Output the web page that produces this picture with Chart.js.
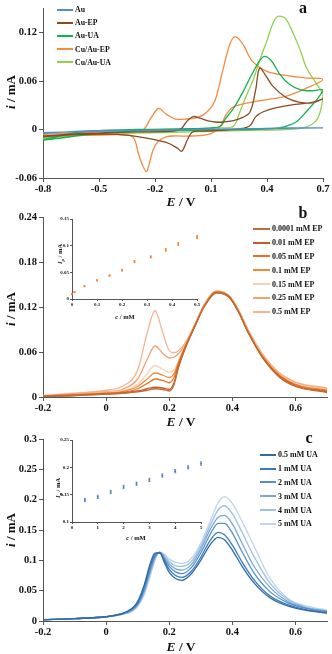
<!DOCTYPE html>
<html>
<head>
<meta charset="utf-8">
<script src="https://cdn.jsdelivr.net/npm/chart.js@4.4.0/dist/chart.umd.min.js"></script>
<style>
html, body { margin: 0; padding: 0; background: #fff; }
body { width: 332px; height: 654px; position: relative; overflow: hidden;
       font-family: "Liberation Serif", "Times New Roman", serif; font-weight: bold; color: #111; }
.box { position: absolute; }
.box canvas { display: block; }
.t { position: absolute; white-space: nowrap; transform: translate(-50%, -50%); line-height: 1; }
.ty { transform: translate(-50%, -50%) rotate(-90deg); }
.lg { position: absolute; }
.lg div { display: flex; align-items: center; white-space: nowrap; }
.lg span { display: inline-block; height: 2px; margin-right: 2px; }
</style>
</head>
<body>
<div class="box" style="left:0px;top:0px"><canvas id="chA" width="332" height="210"></canvas></div>
<div class="box" style="left:0px;top:205px"><canvas id="chB" width="332" height="212"></canvas></div>
<div class="box" style="left:0px;top:425px"><canvas id="chC" width="332" height="229"></canvas></div>
<div class="box" style="left:50px;top:212px"><canvas id="inB" width="155" height="112"></canvas></div>
<div class="box" style="left:50px;top:433px"><canvas id="inC" width="160" height="112"></canvas></div>

<div class="t ty" style="left:10px;top:92px;font-size:13px"><i>i</i> / mA</div>
<div class="t" style="left:181px;top:202px;font-size:13.5px"><i>E</i> / V</div>
<div class="t" style="left:303px;top:8px;font-size:16px">a</div>
<div class="lg" id="lgA" style="left:57px;top:3px;font-size:7.8px"></div>

<div class="t ty" style="left:10px;top:309px;font-size:13px"><i>i</i> / mA</div>
<div class="t" style="left:181px;top:422px;font-size:13.5px"><i>E</i> / V</div>
<div class="t" style="left:303px;top:213px;font-size:16px">b</div>
<div class="lg" id="lgB" style="left:253px;top:222px;font-size:8px"></div>
<div class="t ty" style="left:61px;top:254px;font-size:6.5px"><i>I</i><sub style="font-size:5px"><i>p</i></sub> / mA</div>
<div class="t" style="left:125px;top:317px;font-size:6.5px"><i>c</i> / mM</div>

<div class="t ty" style="left:10px;top:530px;font-size:13px"><i>i</i> / mA</div>
<div class="t" style="left:181px;top:647px;font-size:13.5px"><i>E</i> / V</div>
<div class="t" style="left:309px;top:438px;font-size:16px">c</div>
<div class="lg" id="lgC" style="left:260px;top:448px;font-size:8px"></div>
<div class="t ty" style="left:59px;top:488px;font-size:6.5px"><i>I</i><sub style="font-size:5px"><i>p</i></sub> / mA</div>
<div class="t" style="left:136px;top:538px;font-size:6.5px"><i>c</i> / mM</div>

<script>
// ---- panel a: cyclic voltammograms (E in V, i in mA) ----
var A_LABELS = ['Au', 'Au-EP', 'Au-UA', 'Cu/Au-EP', 'Cu/Au-UA'];
var A_COLORS = ['#4f8fd0', '#8a4b22', '#16b04c', '#f28c45', '#92d050'];
var E_AU = [-0.8, -0.6, -0.3, 0, 0.3, 0.5, 0.7, 0.5, 0.2, -0.2, -0.5, -0.8];
var I_AU = [-0.005, -0.002, -0.001, 0, 0.001, 0.002, 0.002, 0.0015, 0.0005, -0.001, -0.002, -0.004];
var E_AUEP = [-0.8, -0.6, -0.3, -0.1, -0.06, -0.03, 0.005, 0.04, 0.1, 0.15, 0.22, 0.27, 0.31, 0.34, 0.36, 0.39, 0.43, 0.5, 0.57, 0.64, 0.7,
              0.65, 0.55, 0.45, 0.38, 0.34, 0.31, 0.26, 0.15, 0.05, 0.0, -0.025, -0.057, -0.08, -0.14, -0.26, -0.4, -0.6, -0.8];
var I_AUEP = [-0.008, -0.005, -0.003, -0.002, 0.001, 0.01, 0.016, 0.014, 0.01, 0.009, 0.011, 0.015, 0.022, 0.05, 0.076, 0.068, 0.054, 0.04, 0.034, 0.033, 0.038,
              0.034, 0.031, 0.027, 0.022, 0.016, 0.005, 0.001, -0.001, -0.002, -0.003, -0.012, -0.027, -0.023, -0.016, -0.010, -0.006, -0.006, -0.009];
var E_AUUA = [-0.8, -0.6, -0.3, 0, 0.1, 0.15, 0.18, 0.22, 0.27, 0.33, 0.38, 0.42, 0.47, 0.52, 0.58, 0.64, 0.7,
              0.67, 0.61, 0.56, 0.5, 0.43, 0.3, 0, -0.4, -0.8];
var I_AUUA = [-0.013, -0.003, 0, 0.001, 0.002, 0.004, 0.014, 0.026, 0.046, 0.073, 0.09, 0.086, 0.068, 0.056, 0.049, 0.048, 0.049,
              0.038, 0.022, 0.01, 0.004, 0.001, 0, -0.001, -0.003, -0.013];
var E_CUEP = [-0.8, -0.5, -0.3, -0.26, -0.22, -0.18, -0.14, -0.09, -0.03, 0.03, 0.08, 0.12, 0.16, 0.2, 0.23, 0.27, 0.32, 0.4, 0.5, 0.6, 0.7,
              0.6, 0.5, 0.4, 0.3, 0.22, 0.18, 0.15, 0.1, 0, -0.1, -0.14, -0.18, -0.21, -0.23, -0.245, -0.265, -0.29, -0.31, -0.34, -0.5, -0.8];
var I_CUEP = [-0.006, -0.003, -0.001, 0.0, 0.015, 0.026, 0.019, 0.013, 0.013, 0.015, 0.022, 0.035, 0.07, 0.105, 0.115, 0.106, 0.085, 0.072, 0.067, 0.064, 0.062,
              0.05, 0.041, 0.037, 0.033, 0.028, 0.018, 0.004, -0.005, -0.008, -0.008, -0.009, -0.014, -0.025, -0.042, -0.052, -0.045, -0.029, -0.012, -0.007, -0.007, -0.008];
var E_CUUA = [-0.8, -0.6, -0.3, 0, 0.15, 0.22, 0.255, 0.29, 0.33, 0.36, 0.4, 0.435, 0.46, 0.5, 0.54, 0.58, 0.61, 0.65, 0.685, 0.7,
              0.685, 0.66, 0.61, 0.5, 0.3, 0, -0.4, -0.8];
var I_CUUA = [-0.012, -0.004, -0.001, 0.001, 0.002, 0.004, 0.022, 0.042, 0.064, 0.085, 0.11, 0.133, 0.14, 0.137, 0.119, 0.097, 0.077, 0.062, 0.05, 0.044,
              0.022, 0.01, 0.003, 0.0, -0.001, -0.003, -0.005, -0.01];
var A_X_TICKS = [-0.8, -0.5, -0.2, 0.1, 0.4, 0.7];
var A_Y_TICKS = [-0.06, 0, 0.06, 0.12];

// ---- panel b: DPV, EP concentrations ----
var B_LABELS = ['0.0001 mM EP', '0.01 mM EP', '0.05 mM EP', '0.1 mM EP', '0.15 mM EP', '0.25 mM EP', '0.5 mM EP'];
var B_COLORS = ['#bd6e38', '#cc5a1e', '#e6721f', '#f08a38', '#f8d2ba', '#f1a274', '#f5b393'];
var E_B = [-0.2, -0.1, 0, 0.05, 0.1, 0.13, 0.155, 0.18, 0.2, 0.215, 0.23, 0.25, 0.28, 0.31, 0.35, 0.39, 0.42, 0.45, 0.5, 0.55, 0.6, 0.7];
var I_B1 = [0.001, 0.002, 0.004, 0.005, 0.007, 0.009, 0.011, 0.010, 0.008, 0.016, 0.040, 0.064, 0.093, 0.120, 0.139, 0.133, 0.113, 0.086, 0.050, 0.026, 0.014, 0.006];
var I_B2 = [0.001, 0.002, 0.004, 0.005, 0.008, 0.011, 0.013, 0.012, 0.010, 0.019, 0.042, 0.065, 0.093, 0.120, 0.139, 0.133, 0.113, 0.086, 0.050, 0.027, 0.015, 0.007];
var I_B3 = [0.001, 0.003, 0.005, 0.006, 0.011, 0.018, 0.024, 0.022, 0.019, 0.026, 0.045, 0.066, 0.094, 0.120, 0.140, 0.134, 0.114, 0.087, 0.051, 0.028, 0.016, 0.008];
var I_B4 = [0.001, 0.003, 0.005, 0.007, 0.014, 0.024, 0.032, 0.029, 0.026, 0.031, 0.047, 0.067, 0.094, 0.121, 0.140, 0.134, 0.114, 0.087, 0.052, 0.029, 0.017, 0.009];
var I_B5 = [0.001, 0.003, 0.006, 0.008, 0.017, 0.031, 0.042, 0.037, 0.033, 0.036, 0.049, 0.068, 0.094, 0.121, 0.140, 0.134, 0.115, 0.088, 0.053, 0.030, 0.018, 0.010];
var I_B6 = [0.002, 0.004, 0.007, 0.010, 0.024, 0.050, 0.068, 0.058, 0.052, 0.053, 0.058, 0.070, 0.095, 0.122, 0.141, 0.135, 0.115, 0.089, 0.054, 0.031, 0.019, 0.011];
var I_B7 = [0.002, 0.005, 0.009, 0.014, 0.036, 0.085, 0.115, 0.085, 0.062, 0.059, 0.062, 0.072, 0.096, 0.123, 0.141, 0.135, 0.116, 0.090, 0.055, 0.032, 0.020, 0.012];
var B_SERIES = [I_B1, I_B2, I_B3, I_B4, I_B5, I_B6, I_B7];
var BC_X_TICKS = [-0.2, 0, 0.2, 0.4, 0.6];
var B_Y_TICKS = [0, 0.06, 0.12, 0.18, 0.24];

// inset b: peak current vs EP concentration
var IB_C = [0.0001, 0.01, 0.05, 0.1, 0.15, 0.2, 0.25, 0.315, 0.375, 0.425, 0.5];
var IB_I = [0.0095, 0.013, 0.024, 0.035, 0.044, 0.054, 0.070, 0.079, 0.092, 0.103, 0.116];
var IB_ERR = [0.001, 0.001, 0.001, 0.001, 0.0012, 0.0015, 0.002, 0.002, 0.0025, 0.003, 0.003];
var IB_X_TICKS = [0, 0.1, 0.2, 0.3, 0.4, 0.5];
var IB_Y_TICKS = [0, 0.05, 0.1, 0.15];

// ---- panel c: DPV, UA concentrations ----
var C_LABELS = ['0.5 mM UA', '1 mM UA', '2 mM UA', '3 mM UA', '4 mM UA', '5 mM UA'];
var C_COLORS = ['#2f6aa8', '#3a7abd', '#5690c8', '#78a8d6', '#9dc0e3', '#bdd5ee'];
var E_C = [-0.2, -0.1, 0, 0.05, 0.08, 0.1, 0.12, 0.14, 0.155, 0.17, 0.185, 0.2, 0.22, 0.24, 0.27, 0.3, 0.33, 0.355, 0.375, 0.4, 0.43, 0.47, 0.52, 0.58, 0.64, 0.7];
var I_C1 = [0.002, 0.004, 0.007, 0.012, 0.020, 0.032, 0.058, 0.095, 0.112, 0.112, 0.096, 0.080, 0.070, 0.067, 0.078, 0.100, 0.126, 0.138, 0.134, 0.117, 0.091, 0.062, 0.038, 0.024, 0.017, 0.013];
var I_C2 = [0.002, 0.004, 0.007, 0.012, 0.019, 0.030, 0.055, 0.091, 0.110, 0.113, 0.099, 0.085, 0.075, 0.072, 0.082, 0.105, 0.133, 0.146, 0.142, 0.125, 0.098, 0.067, 0.041, 0.026, 0.018, 0.014];
var I_C3 = [0.002, 0.004, 0.007, 0.012, 0.018, 0.028, 0.051, 0.086, 0.107, 0.113, 0.102, 0.090, 0.081, 0.078, 0.088, 0.112, 0.143, 0.161, 0.161, 0.145, 0.115, 0.078, 0.048, 0.029, 0.020, 0.015];
var I_C4 = [0.002, 0.004, 0.007, 0.011, 0.017, 0.027, 0.048, 0.082, 0.105, 0.113, 0.105, 0.094, 0.086, 0.084, 0.093, 0.118, 0.151, 0.171, 0.174, 0.160, 0.129, 0.089, 0.055, 0.031, 0.021, 0.016];
var I_C5 = [0.002, 0.004, 0.007, 0.011, 0.016, 0.025, 0.045, 0.078, 0.102, 0.113, 0.108, 0.098, 0.091, 0.090, 0.098, 0.123, 0.158, 0.183, 0.190, 0.177, 0.147, 0.105, 0.062, 0.034, 0.022, 0.017];
var I_C6 = [0.002, 0.004, 0.007, 0.011, 0.015, 0.024, 0.042, 0.075, 0.100, 0.113, 0.110, 0.102, 0.097, 0.095, 0.103, 0.128, 0.165, 0.195, 0.205, 0.194, 0.165, 0.122, 0.070, 0.036, 0.024, 0.018];
var C_SERIES = [I_C1, I_C2, I_C3, I_C4, I_C5, I_C6];
var C_Y_TICKS = [0, 0.05, 0.1, 0.15, 0.2, 0.25, 0.3];

// inset c: peak current vs UA concentration
var IC_C = [0.5, 1, 1.5, 2, 2.5, 3, 3.5, 4, 4.5, 5];
var IC_I = [0.140, 0.146, 0.155, 0.164, 0.170, 0.177, 0.185, 0.193, 0.200, 0.207];
var IC_ERR = [0.003, 0.003, 0.003, 0.003, 0.003, 0.003, 0.003, 0.003, 0.003, 0.003];
var IC_X_TICKS = [0, 1, 2, 3, 4, 5];
var IC_Y_TICKS = [0.1, 0.15, 0.2, 0.25];

var AXIS_COLOR = '#555';
var FONT = '"Liberation Serif", "Times New Roman", serif';

function fmt(v) { return String(+v.toFixed(3)); }

function pts(xs, ys) {
    return xs.map(function (x, k) { return { x: x, y: ys[k] }; });
}

function axis(min, max, ticks, size, fontSize, tickLen, pad, isX) {
    return {
        type: 'linear', min: min, max: max,
        afterBuildTicks: function (a) { a.ticks = ticks.map(function (v) { return { value: v }; }); },
        afterFit: function (s) { if (isX) { s.height = size; } else { s.width = size; } },
        ticks: { autoSkip: false, maxRotation: 0, padding: pad, color: '#111',
                 font: { family: FONT, size: fontSize, weight: 'bold' },
                 callback: function (v) { return fmt(v); } },
        grid: { drawOnChartArea: false, drawTicks: true, tickLength: tickLen, color: AXIS_COLOR },
        border: { display: true, color: AXIS_COLOR, width: 1 }
    };
}

// error bars for the insets
var errBars = {
    id: 'errBars',
    afterDatasetsDraw: function (chart, args, opts) {
        if (!opts.err) return;
        var ctx = chart.ctx, xs = chart.scales.x, ys = chart.scales.y;
        var data = chart.data.datasets[0].data;
        ctx.save();
        ctx.strokeStyle = opts.color;
        ctx.lineWidth = 0.8;
        data.forEach(function (p, k) {
            var px = xs.getPixelForValue(p.x);
            var y1 = ys.getPixelForValue(p.y + opts.err[k]);
            var y2 = ys.getPixelForValue(p.y - opts.err[k]);
            ctx.beginPath();
            ctx.moveTo(px, y1); ctx.lineTo(px, y2);
            ctx.moveTo(px - 1, y1); ctx.lineTo(px + 1, y1);
            ctx.moveTo(px - 1, y2); ctx.lineTo(px + 1, y2);
            ctx.stroke();
        });
        ctx.restore();
    }
};

function baseOptions(pad, x, y, extra) {
    return {
        responsive: false, animation: false, devicePixelRatio: 1,
        layout: { padding: pad },
        plugins: Object.assign({ legend: { display: false }, tooltip: { enabled: false } }, extra || {}),
        elements: { point: { radius: 0 }, line: { borderWidth: 1.3 } },
        scales: { x: x, y: y }
    };
}

// panel a
var aSets = [[E_AU, I_AU], [E_AUEP, I_AUEP], [E_AUUA, I_AUUA], [E_CUEP, I_CUEP], [E_CUUA, I_CUUA]];
var chartA = new Chart(document.getElementById('chA'), {
    type: 'line',
    data: {
        datasets: aSets.map(function (s, k) {
            return { label: A_LABELS[k], data: pts(s[0], s[1]), borderColor: A_COLORS[k], tension: 0.35, fill: false };
        })
    },
    options: baseOptions({ left: 0, right: 9, top: 4, bottom: 0 },
        axis(-0.8, 0.7, A_X_TICKS, 32, 10.5, 4, 1, true),
        axis(-0.06, 0.15, A_Y_TICKS, 43, 10.5, 4, 2, false))
});

// panel b
var chartB = new Chart(document.getElementById('chB'), {
    type: 'line',
    data: {
        datasets: B_SERIES.map(function (s, k) {
            return { label: B_LABELS[k], data: pts(E_B, s), borderColor: B_COLORS[k], cubicInterpolationMode: 'monotone', fill: false };
        })
    },
    options: baseOptions({ left: 0, right: 5, top: 12, bottom: 0 },
        axis(-0.2, 0.7, BC_X_TICKS, 20, 10.5, 4, 1, true),
        axis(0, 0.24, B_Y_TICKS, 43, 10.5, 4, 2, false))
});

// panel c
var chartC = new Chart(document.getElementById('chC'), {
    type: 'line',
    data: {
        datasets: C_SERIES.map(function (s, k) {
            return { label: C_LABELS[k], data: pts(E_C, s), borderColor: C_COLORS[k], cubicInterpolationMode: 'monotone', fill: false };
        })
    },
    options: baseOptions({ left: 0, right: 5, top: 14, bottom: 0 },
        axis(-0.2, 0.7, BC_X_TICKS, 33, 10.5, 4, 1, true),
        axis(0, 0.3, C_Y_TICKS, 43, 10.5, 4, 2, false))
});

// insets
function inset(id, xs, ys, err, color, pad, xr, yr, xt, yt, xH) {
    return new Chart(document.getElementById(id), {
        type: 'line',
        data: { datasets: [{ data: pts(xs, ys), showLine: false, clip: false,
                              pointStyle: 'rect', pointRadius: 1.2, pointBackgroundColor: color, pointBorderWidth: 0 }] },
        options: baseOptions(pad,
            axis(xr[0], xr[1], xt, xH, 5, 2, 1, true),
            axis(yr[0], yr[1], yt, 22, 5, 2, 1, false),
            { errBars: { err: err, color: color } }),
        plugins: [errBars]
    });
}
inset('inB', IB_C, IB_I, IB_ERR, '#f08030', { left: 0, right: 8, top: 7, bottom: 0 }, [0, 0.5], [0, 0.15], IB_X_TICKS, IB_Y_TICKS, 25);
inset('inC', IC_C, IC_I, IC_ERR, '#4a78c0', { left: 0, right: 9, top: 7, bottom: 0 }, [0, 5], [0.1, 0.25], IC_X_TICKS, IC_Y_TICKS, 23);

// html legends built from chart datasets
function legend(id, chart, rowH, lineW) {
    var el = document.getElementById(id);
    chart.data.datasets.forEach(function (ds) {
        var row = document.createElement('div');
        row.style.height = rowH + 'px';
        var sw = document.createElement('span');
        sw.style.width = lineW + 'px';
        sw.style.background = ds.borderColor;
        row.appendChild(sw);
        row.appendChild(document.createTextNode(ds.label));
        el.appendChild(row);
    });
}
legend('lgA', chartA, 13.2, 16);
legend('lgB', chartB, 13.8, 17);
legend('lgC', chartC, 13.8, 16);
</script>
</body>
</html>
